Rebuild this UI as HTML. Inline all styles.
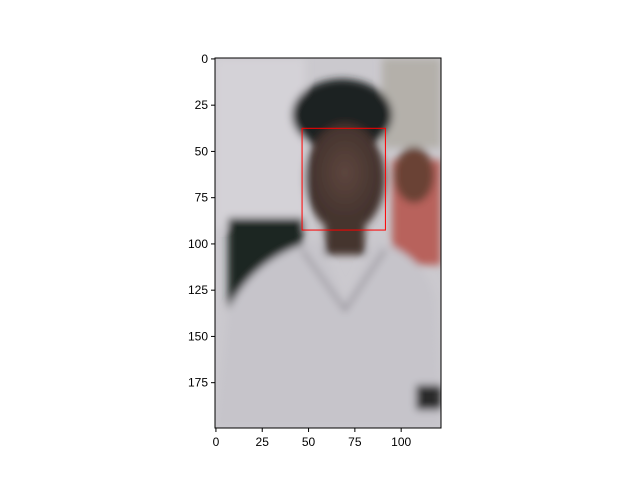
<!DOCTYPE html>
<html><head><meta charset="utf-8"><style>
body{margin:0;background:#fff;}
svg{display:block;font-family:"Liberation Sans","DejaVu Sans",sans-serif;}
</style></head><body>
<svg id="chart" width="640" height="480" viewBox="0 0 640 480">
<defs>
<filter id="blur" x="-20%" y="-20%" width="140%" height="140%"><feGaussianBlur stdDeviation="4"/></filter>
<clipPath id="imgclip"><rect x="215" y="58" width="226" height="370"/></clipPath>
<radialGradient id="faceg" cx="0.5" cy="0.45" r="0.6"><stop offset="0" stop-color="#5e463e"/><stop offset="1" stop-color="#3a2c28"/></radialGradient>
</defs>
<g clip-path="url(#imgclip)">
<rect x="215" y="58" width="226" height="370" fill="#cbc9ce"/>
<g filter="url(#blur)">
<rect x="215" y="58" width="90" height="170" fill="#d4d2d7"/>
<rect x="382" y="58" width="59" height="90" fill="#b4b0aa"/>
<rect x="228" y="218" width="75" height="100" fill="#1c2824"/>
<rect x="392" y="160" width="49" height="105" fill="#b8625c"/>
<ellipse cx="414" cy="175" rx="20" ry="28" fill="#6a4236"/>
<ellipse cx="342" cy="115" rx="50" ry="36" fill="#1d2320"/>
<ellipse cx="345" cy="178" rx="40" ry="55" fill="url(#faceg)"/>
<rect x="325" y="215" width="40" height="40" fill="#45342f"/>
<path d="M228 310 Q255 255 318 240 L345 300 L376 240 Q425 255 436 300 L441 428 L215 428 Z" fill="#c6c4ca"/>
<path d="M302 250 L345 310 L385 250" fill="none" stroke="#8e8a92" stroke-width="3"/>
<rect x="416" y="385" width="25" height="25" fill="#2a2a2a"/>
</g>
</g>
<rect x="215" y="58" width="226" height="370" fill="none" stroke="#000" stroke-width="1"/>
<g id="xticks"></g>
<g id="yticks"></g>
<g id="boxes"></g>
</svg>
<script>
const xTicks=[0,25,50,75,100];
const yTicks=[0,25,50,75,100,125,150,175];
const imgWidth=[122];
const imgHeight=[200];
const boxX=[47], boxY=[38], boxW=[45], boxH=[55];
const L=215,T=58,W=226,H=370;
const sx=v=>L+(v+0.5)/imgWidth[0]*W;
const sy=v=>T+(v+0.5)/imgHeight[0]*H;
const NS="http://www.w3.org/2000/svg";
function mk(t,a,p){const e=document.createElementNS(NS,t);for(const k in a)e.setAttribute(k,a[k]);p.appendChild(e);return e;}
const gx=document.getElementById('xticks'),gy=document.getElementById('yticks'),gb=document.getElementById('boxes');
xTicks.forEach(v=>{const x=sx(v);
const l=mk('line',{x1:x,x2:x,y1:T+H,y2:T+H+4,stroke:'#000'},gx);


const t=mk('text',{x:x,y:T+H+18,'text-anchor':'middle','font-size':12},gx);t.textContent=v;

});
yTicks.forEach(v=>{const y=sy(v);
const l=mk('line',{x1:L-4,x2:L,y1:y,y2:y,stroke:'#000'},gy);


const t=mk('text',{x:L-7,y:y+4,'text-anchor':'end','font-size':12},gy);t.textContent=v;

});
boxX.forEach((v,i)=>{const x0=sx(v-0.5),y0=sy(boxY[i]-0.5);
const r=mk('rect',{x:x0,y:y0,width:boxW[i]/imgWidth[0]*W,height:boxH[i]/imgHeight[0]*H,fill:'none',stroke:'#ff0000','stroke-width':1},gb);

});
</script>
</body></html>
